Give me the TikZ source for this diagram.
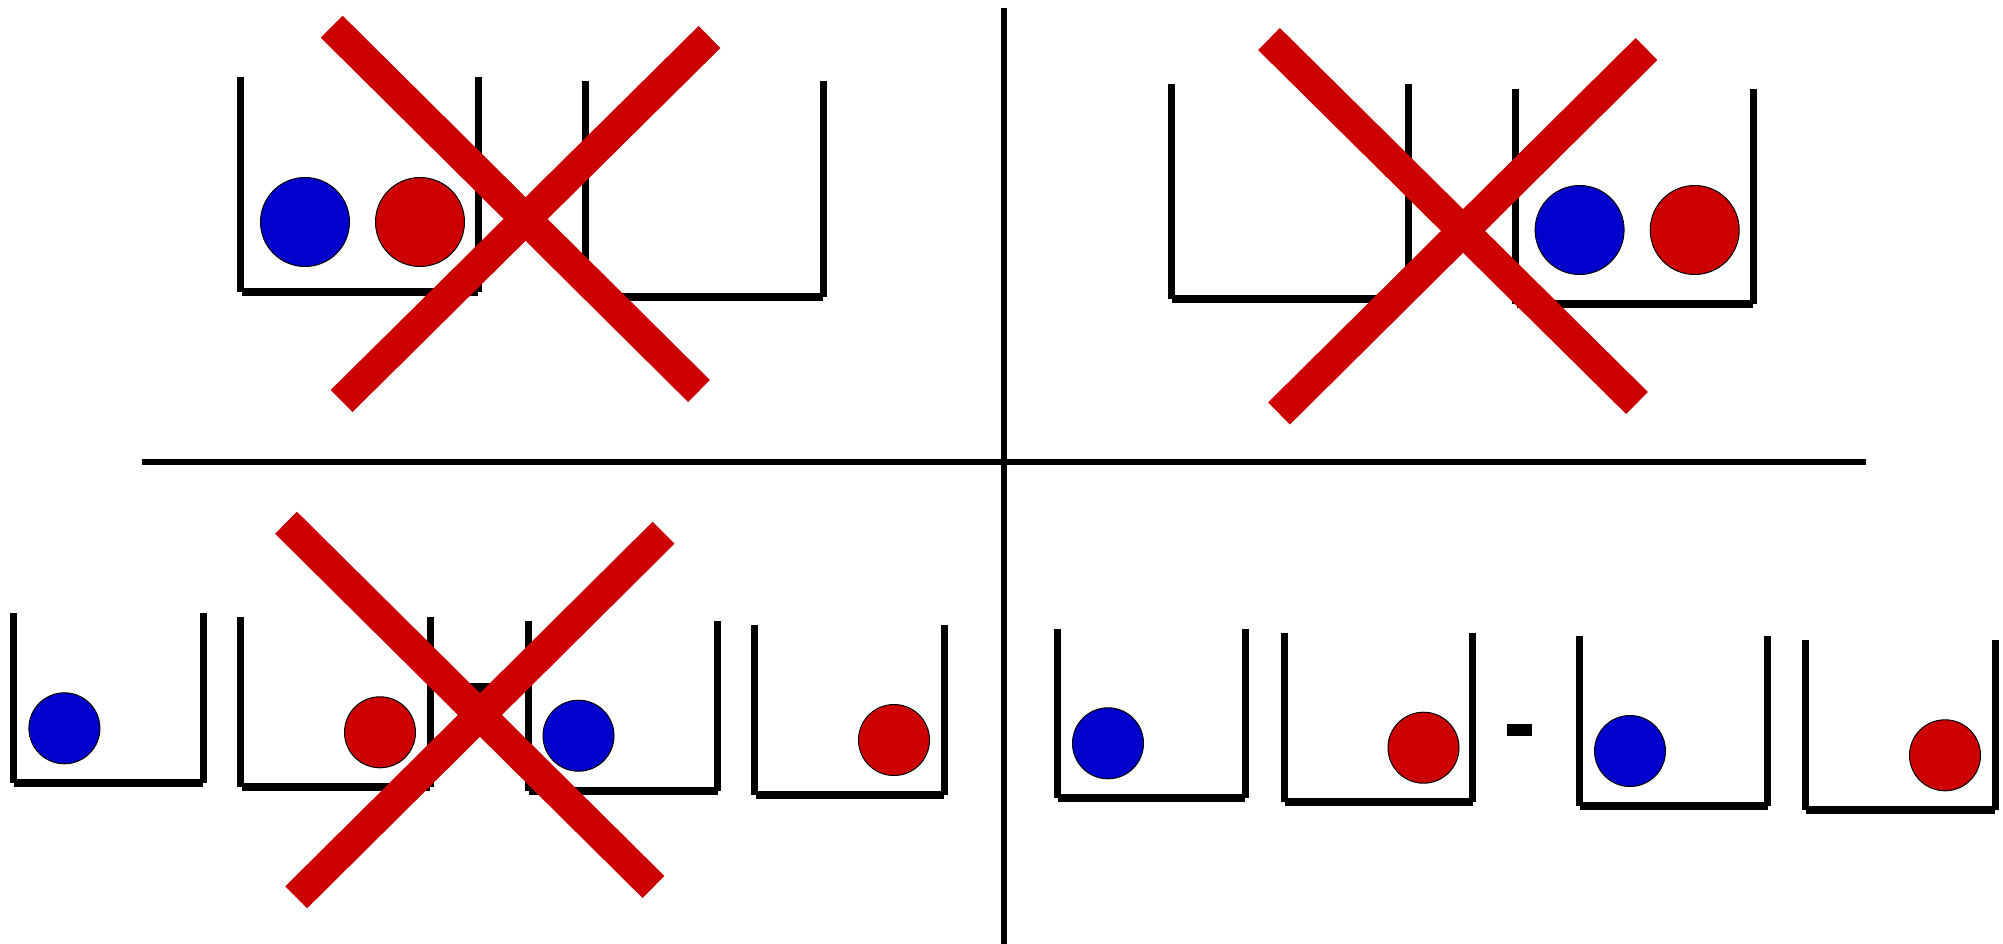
\documentclass[tikz,border=0pt]{standalone}
\usepackage{tikz}
\definecolor{ballblue}{HTML}{0000CC}
\definecolor{ballred}{HTML}{CC0000}
\definecolor{crossred}{HTML}{CC0000}
\tikzset{
  wall/.style={line width=7pt, line cap=butt},
  base/.style={line width=8pt, line cap=butt},
  divider/.style={line width=5.5pt, line cap=butt},
  crossbar/.style={line width=31pt, line cap=butt, draw=crossred},
  blueball/.style={fill=ballblue, draw=black, line width=1pt},
  redball/.style={fill=ballred, draw=black, line width=1pt},
  minusmark/.style={fill=black}
}
\newcommand{\cupbox}[4]{% L R T B
  \draw[wall] (#1,#3) -- (#1,#4);
  \draw[wall] (#2,#3) -- (#2,#4);
  \draw[base] (#1+1,#4) -- (#2,#4);
}
\begin{document}
\begin{tikzpicture}[x=1pt,y=-1pt]
\useasboundingbox[fill=white] (0,0) rectangle (2003,944);

% dividers
\coordinate (vtop) at (1004,8);
\coordinate (vbot) at (1004,944);
\coordinate (hl) at (142,462);
\coordinate (hr) at (1866,462);
\draw[divider] (vtop) -- (vbot);
\draw[divider] (hl) -- (hr);

% ---------- top-left ----------
\cupbox{240.5}{478}{77}{292}
\cupbox{585.6}{823}{81}{297}
\fill[blueball] (305,222) circle (44.5);
\fill[redball] (420,222) circle (44.5);
\draw[crossbar] (331.7,26.7) -- (699,391);
\draw[crossbar] (709.5,37) -- (341.6,401);

% ---------- top-right ----------
\cupbox{1171}{1408}{84}{299}
\cupbox{1515.6}{1753}{89}{304}
\fill[blueball] (1579.6,230) circle (44.5);
\fill[redball] (1694.7,230) circle (44.5);
\draw[crossbar] (1269,39) -- (1637,403);
\draw[crossbar] (1646.5,49) -- (1279,413.5);

% ---------- bottom-left ----------
\cupbox{13.4}{203}{613}{783}
\cupbox{240.5}{430}{617}{787}
\cupbox{528}{717.5}{621}{791}
\cupbox{754.5}{944}{625}{795}
\fill[blueball] (64.4,728.3) circle (35.5);
\fill[redball] (380,732.3) circle (35.5);
\fill[blueball] (578.5,735.7) circle (35.5);
\fill[redball] (894,740) circle (35.5);
\fill[minusmark] (469,683) rectangle (494,694.5);
\draw[crossbar] (286,522.7) -- (653.5,887);
\draw[crossbar] (663.6,532.7) -- (296.2,897.3);

% ---------- bottom-right ----------
\cupbox{1057}{1245}{628.7}{798}
\cupbox{1284}{1472.7}{632.7}{802}
\cupbox{1579}{1767.6}{636.3}{806}
\cupbox{1805.4}{1995.4}{640.3}{810}
\fill[blueball] (1108,743.3) circle (35.5);
\fill[redball] (1423.5,747.7) circle (35.5);
\fill[blueball] (1630,751) circle (35.5);
\fill[redball] (1945,755.3) circle (35.5);
\fill[minusmark] (1506.7,724) rectangle (1532,735.7);
\end{tikzpicture}
\end{document}
